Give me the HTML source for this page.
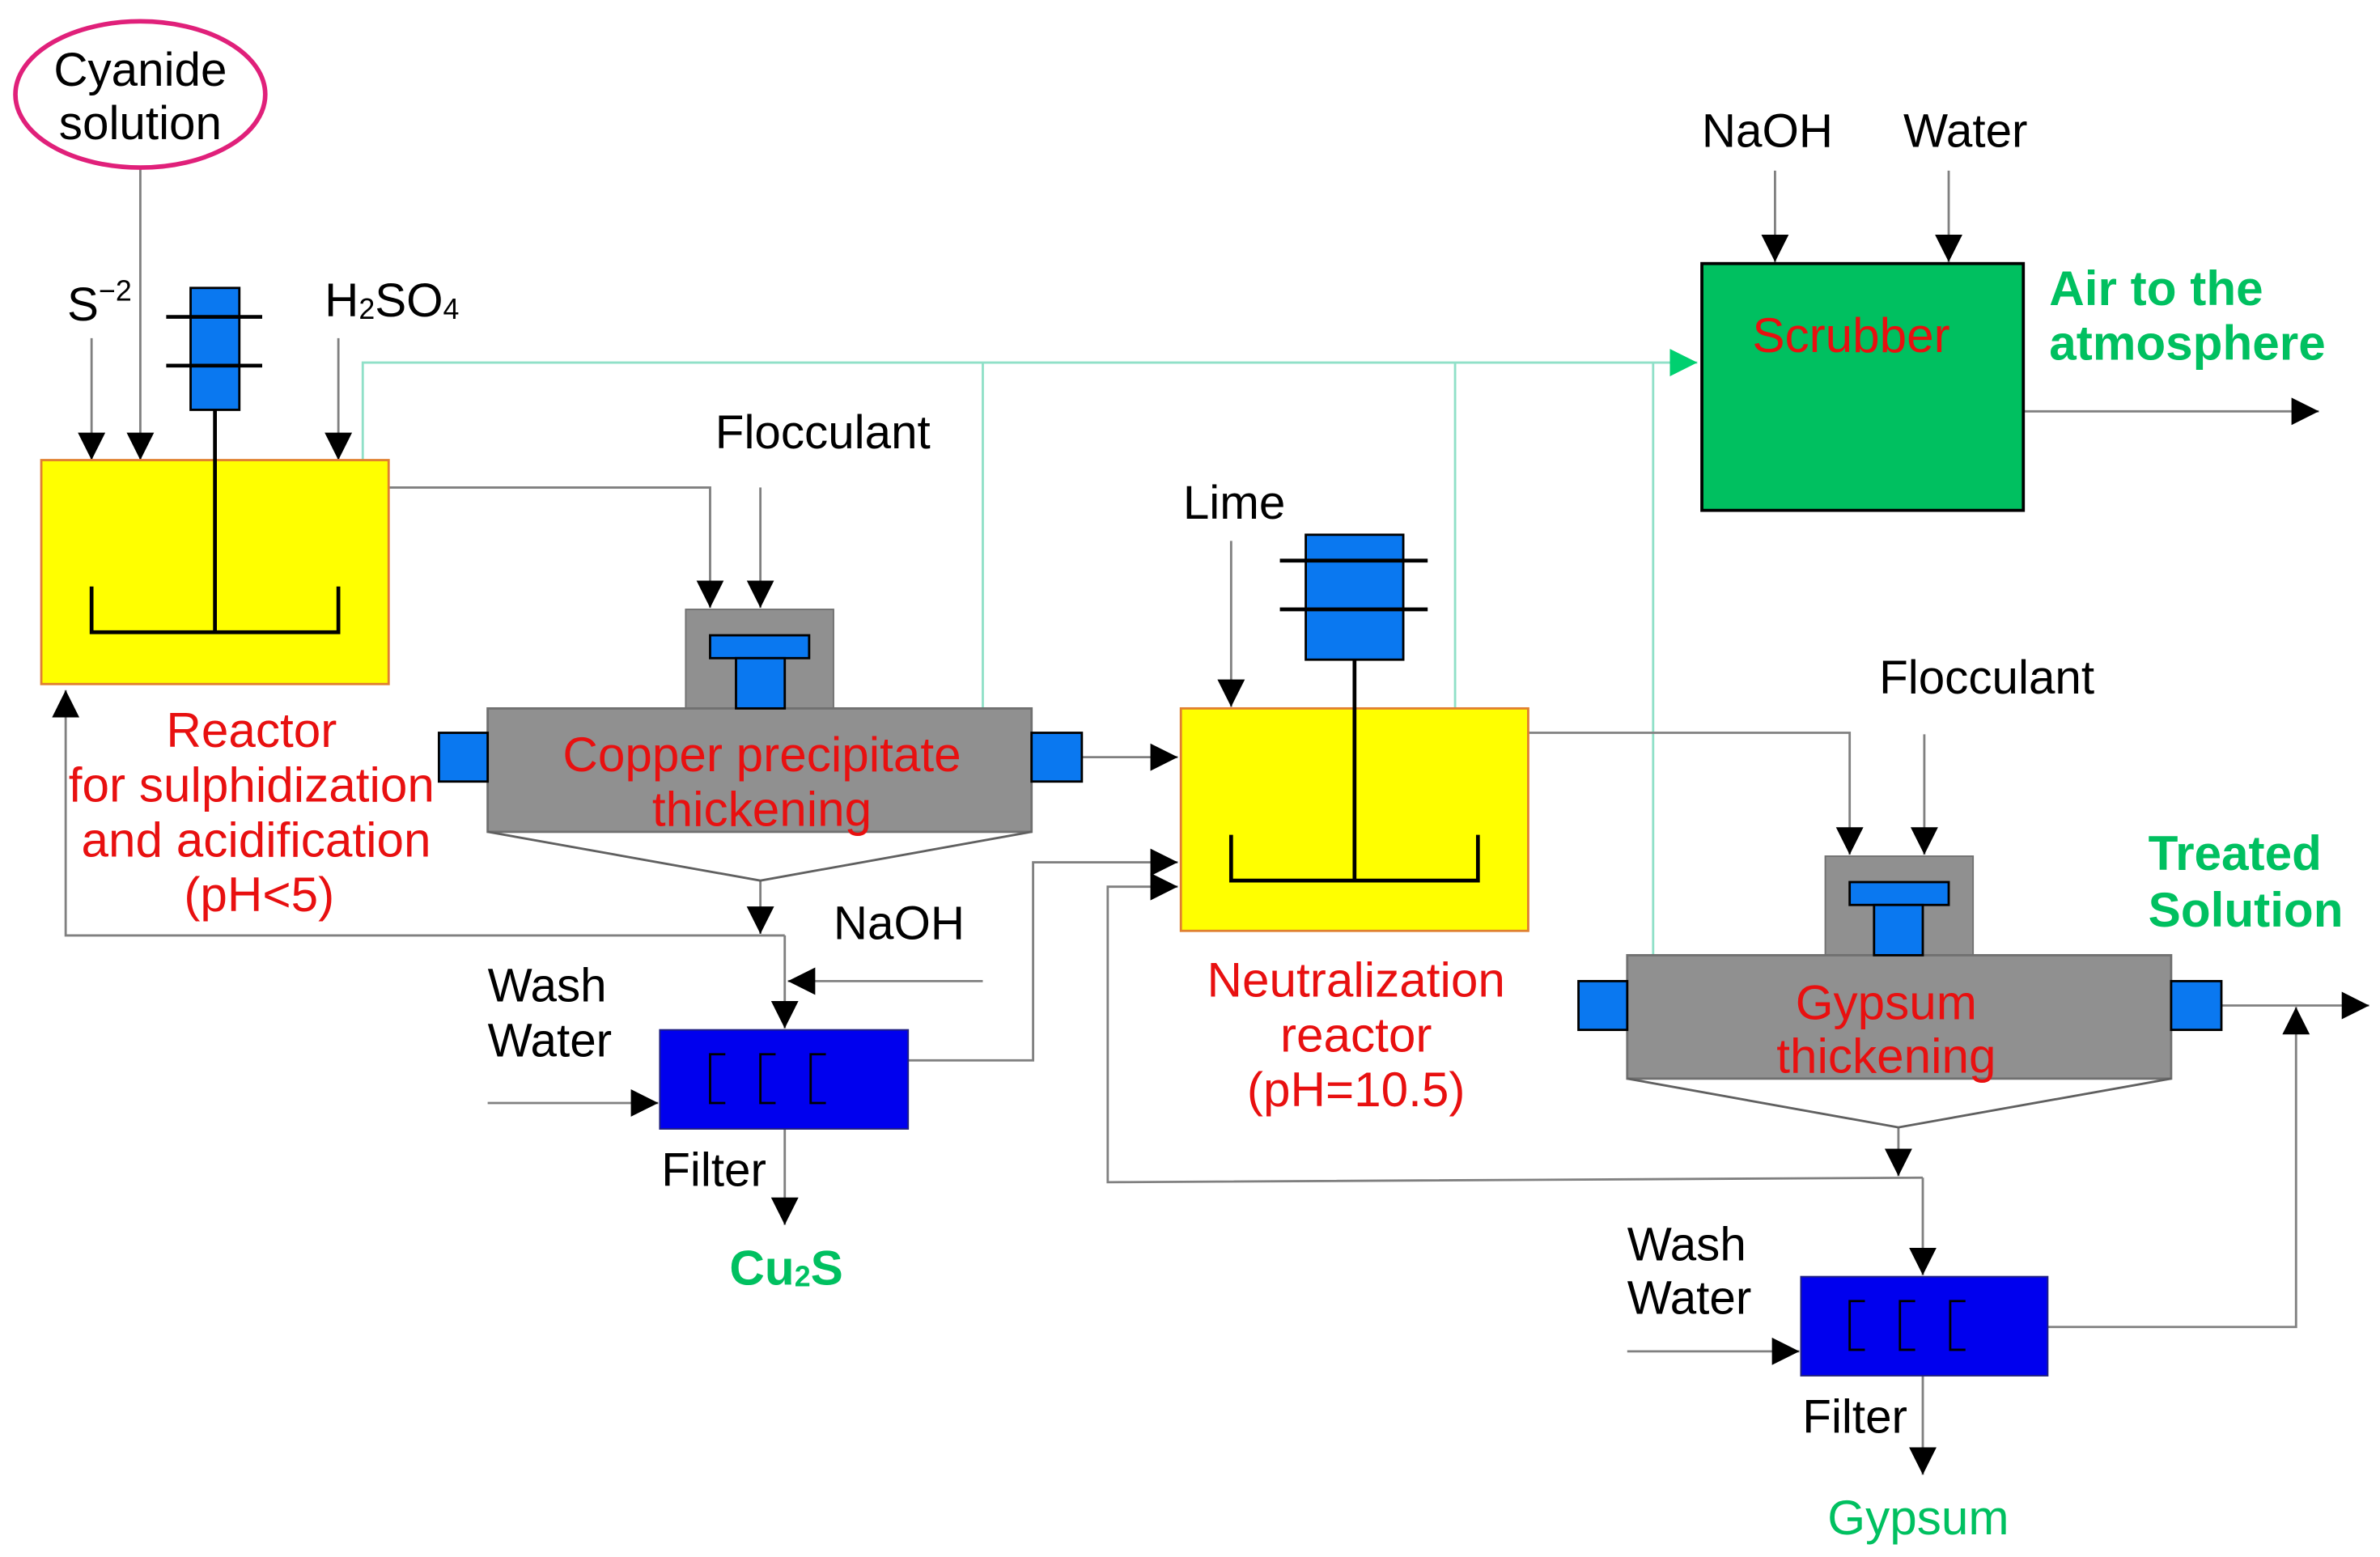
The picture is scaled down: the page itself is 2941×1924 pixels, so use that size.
<!DOCTYPE html>
<html><head><meta charset="utf-8"><style>html,body{margin:0;padding:0;background:#fff}svg{display:block}</style></head><body>
<svg width="2941" height="1924" viewBox="0 0 1562 1022" xmlns="http://www.w3.org/2000/svg" font-family="Liberation Sans, sans-serif">
<defs>
<marker id="a" markerUnits="userSpaceOnUse" markerWidth="20" markerHeight="20" refX="18" refY="9" orient="auto"><path d="M0,0 L18,9 L0,18 Z" fill="#000"/></marker>
<marker id="g" markerUnits="userSpaceOnUse" markerWidth="20" markerHeight="20" refX="18" refY="9" orient="auto"><path d="M0,0 L18,9 L0,18 Z" fill="#00d070"/></marker>
</defs>
<rect width="1562" height="1022" fill="#fff"/>
<g stroke="#90e0c8" stroke-width="1.5" fill="none">
<polyline points="238,302 238,238 1114,238" marker-end="url(#g)"/>
<line x1="645" y1="238" x2="645" y2="465"/>
<line x1="955" y1="238" x2="955" y2="465"/>
<line x1="1085" y1="238" x2="1085" y2="627"/>
</g>
<g stroke="#808080" stroke-width="1.5" fill="none" marker-end="url(#a)">
<line x1="92" y1="110" x2="92" y2="302"/>
<line x1="60" y1="222" x2="60" y2="302"/>
<line x1="222" y1="222" x2="222" y2="302"/>
<polyline points="255,320 466,320 466,399"/>
<line x1="499" y1="320" x2="499" y2="399"/>
<line x1="710" y1="497" x2="773" y2="497"/>
<line x1="499" y1="578" x2="499" y2="613"/>
<polyline points="515,614 43,614 43,453"/>
<line x1="515" y1="614" x2="515" y2="675"/>
<line x1="645" y1="644" x2="517" y2="644"/>
<line x1="320" y1="724" x2="432" y2="724"/>
<line x1="515" y1="741" x2="515" y2="804"/>
<polyline points="596,696 678,696 678,566 773,566"/>
<polyline points="1262,773 727,776 727,582 773,582"/>
<line x1="1262" y1="773" x2="1262" y2="837"/>
<line x1="1246" y1="740" x2="1246" y2="772"/>
<line x1="808" y1="355" x2="808" y2="464"/>
<polyline points="1003,481 1214,481 1214,561"/>
<line x1="1263" y1="482" x2="1263" y2="561"/>
<line x1="1458" y1="660" x2="1555" y2="660"/>
<line x1="1068" y1="887" x2="1181" y2="887"/>
<line x1="1262" y1="903" x2="1262" y2="968"/>
<polyline points="1344,871 1507,871 1507,661"/>
<line x1="1165" y1="112" x2="1165" y2="172"/>
<line x1="1279" y1="112" x2="1279" y2="172"/>
<line x1="1328" y1="270" x2="1522" y2="270"/>
</g>
<ellipse cx="92" cy="62" rx="82" ry="48" fill="#fff" stroke="#e0207a" stroke-width="3"/>
<rect x="27" y="302" width="228" height="147" fill="#ffff00" stroke="#e08030" stroke-width="1.5"/>
<rect x="125" y="189" width="32" height="80" fill="#0a78f0" stroke="#000" stroke-width="1.5"/>
<g stroke="#000" stroke-width="2.5" fill="none">
<line x1="109" y1="208" x2="172" y2="208"/><line x1="109" y1="240" x2="172" y2="240"/>
<line x1="141" y1="269" x2="141" y2="415"/>
<polyline points="60,385 60,415 222,415 222,385"/>
</g>
<rect x="450" y="400" width="97" height="65" fill="#909090" stroke="#707070"/>
<rect x="320" y="465" width="357" height="81" fill="#909090" stroke="#707070" stroke-width="1.5"/>
<rect x="466" y="417" width="65" height="15" fill="#0a78f0" stroke="#000" stroke-width="1.5"/>
<rect x="483" y="432" width="32" height="33" fill="#0a78f0" stroke="#000" stroke-width="1.5"/>
<rect x="288" y="481" width="32" height="32" fill="#0a78f0" stroke="#000" stroke-width="1.5"/>
<rect x="677" y="481" width="33" height="32" fill="#0a78f0" stroke="#000" stroke-width="1.5"/>
<polyline points="320,546 499,578 677,546" fill="none" stroke="#606060" stroke-width="1.5"/>
<rect x="433" y="676" width="163" height="65" fill="#0000ee" stroke="#202080"/>
<g stroke="#000" stroke-width="1.5" fill="none">
<polyline points="476,692 466,692 466,724 476,724"/><polyline points="509,692 499,692 499,724 509,724"/><polyline points="542,692 532,692 532,724 542,724"/>
</g>
<rect x="775" y="465" width="228" height="146" fill="#ffff00" stroke="#e08030" stroke-width="1.5"/>
<rect x="857" y="351" width="64" height="82" fill="#0a78f0" stroke="#000" stroke-width="1.5"/>
<g stroke="#000" stroke-width="2.5" fill="none">
<line x1="840" y1="368" x2="937" y2="368"/><line x1="840" y1="400" x2="937" y2="400"/>
<line x1="889" y1="433" x2="889" y2="578"/>
<polyline points="808,548 808,578 970,578 970,548"/>
</g>
<rect x="1198" y="562" width="97" height="65" fill="#909090" stroke="#707070"/>
<rect x="1068" y="627" width="357" height="81" fill="#909090" stroke="#707070" stroke-width="1.5"/>
<rect x="1214" y="579" width="65" height="15" fill="#0a78f0" stroke="#000" stroke-width="1.5"/>
<rect x="1230" y="594" width="32" height="33" fill="#0a78f0" stroke="#000" stroke-width="1.5"/>
<rect x="1036" y="644" width="32" height="32" fill="#0a78f0" stroke="#000" stroke-width="1.5"/>
<rect x="1425" y="644" width="33" height="32" fill="#0a78f0" stroke="#000" stroke-width="1.5"/>
<polyline points="1068,708 1246,740 1425,708" fill="none" stroke="#606060" stroke-width="1.5"/>
<rect x="1182" y="838" width="162" height="65" fill="#0000ee" stroke="#202080"/>
<g stroke="#000" stroke-width="1.5" fill="none">
<polyline points="1224,854 1214,854 1214,886 1224,886"/><polyline points="1257,854 1247,854 1247,886 1257,886"/><polyline points="1290,854 1280,854 1280,886 1290,886"/>
</g>
<rect x="1117" y="173" width="211" height="162" fill="#00c060" stroke="#000" stroke-width="2"/>
<g font-size="31" fill="#000" dominant-baseline="central">
<text x="92" y="46" text-anchor="middle">Cyanide</text>
<text x="92" y="81" text-anchor="middle">solution</text>
<text x="44" y="200">S<tspan font-size="19" dy="-9">−2</tspan></text>
<text x="213" y="197">H<tspan font-size="19" dy="6">2</tspan><tspan dy="-6">SO</tspan><tspan font-size="19" dy="6">4</tspan></text>
<text x="540" y="284" text-anchor="middle">Flocculant</text>
<text x="590" y="606" text-anchor="middle">NaOH</text>
<text x="320" y="647">Wash</text>
<text x="320" y="683">Water</text>
<text x="434" y="768">Filter</text>
<text x="810" y="330" text-anchor="middle">Lime</text>
<text x="1304" y="445" text-anchor="middle">Flocculant</text>
<text x="1068" y="817">Wash</text>
<text x="1068" y="852">Water</text>
<text x="1183" y="930">Filter</text>
<text x="1160" y="86" text-anchor="middle">NaOH</text>
<text x="1290" y="86" text-anchor="middle">Water</text>
</g>
<g font-size="32" fill="#e81010" dominant-baseline="central" text-anchor="middle">
<text x="165" y="479">Reactor</text>
<text x="165" y="515">for sulphidization</text>
<text x="168" y="551">and acidification</text>
<text x="170" y="587">(pH&lt;5)</text>
<text x="500" y="495">Copper precipitate</text>
<text x="500" y="531">thickening</text>
<text x="890" y="643">Neutralization</text>
<text x="890" y="679">reactor</text>
<text x="890" y="715">(pH=10.5)</text>
<text x="1238" y="658">Gypsum</text>
<text x="1238" y="693">thickening</text>
<text x="1215" y="220">Scrubber</text>
</g>
<g font-size="32" fill="#00c060" dominant-baseline="central" font-weight="bold">
<text x="1345" y="189">Air to the</text>
<text x="1345" y="225">atmosphere</text>
<text x="1410" y="560">Treated</text>
<text x="1410" y="597">Solution</text>
<text x="516" y="832" text-anchor="middle">Cu<tspan font-size="19" dy="6">2</tspan><tspan dy="-6">S</tspan></text>
</g>
<text x="1259" y="996" font-size="32" fill="#00c060" dominant-baseline="central" text-anchor="middle">Gypsum</text>
</svg>
</body></html>
